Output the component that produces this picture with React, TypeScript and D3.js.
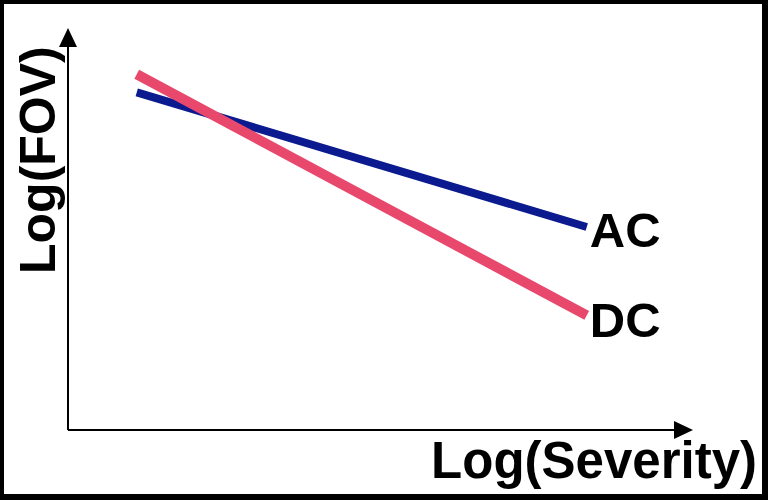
import React from "react";
import * as d3 from "d3";

const severity: number[] = [1.1, 8.3];
const acValues: number[] = [8.4, 5.05];
const dcValues: number[] = [8.85, 2.85];
const seriesNames: string[] = ["AC", "DC"];
const xLabel = "Log(Severity)";
const yLabel = "Log(FOV)";

const W = 768;
const H = 500;

export default function App() {
  const x = d3.scaleLinear().domain([0, 10]).range([68, 693]);
  const y = d3.scaleLinear().domain([0, 10]).range([430, 28]);
  const line = d3
    .line<[number, number]>()
    .x((d) => x(d[0]))
    .y((d) => y(d[1]));
  const acPts = severity.map((s, i) => [s, acValues[i]] as [number, number]);
  const dcPts = severity.map((s, i) => [s, dcValues[i]] as [number, number]);
  const font = "'Liberation Sans', Arial, sans-serif";
  const x0 = x(0);
  const y0 = y(0);
  const xEnd = x(10);
  const yEnd = y(10);
  return (
    <svg
      width={W}
      height={H}
      style={{ position: "fixed", left: 0, top: 0, display: "block" }}
    >
      <rect x={0} y={0} width={W} height={H} fill="#000" />
      <rect x={4} y={4} width={758} height={490} fill="#fff" />
      {/* axes */}
      <line x1={x0} y1={y0} x2={x0} y2={yEnd + 16} stroke="#000" strokeWidth={2} />
      <path d={`M${x0 - 9},${yEnd + 19} L${x0},${yEnd} L${x0 + 9},${yEnd + 19} Z`} fill="#000" />
      <line x1={x0} y1={y0} x2={xEnd - 16} y2={y0} stroke="#000" strokeWidth={2} />
      <path d={`M${xEnd - 19},${y0 - 9} L${xEnd},${y0} L${xEnd - 19},${y0 + 9} Z`} fill="#000" />
      {/* series */}
      <path d={line(acPts) || ""} stroke="#0b1a8e" strokeWidth={8} fill="none" />
      <path d={line(dcPts) || ""} stroke="#e8486c" strokeWidth={10} fill="none" />
      <text
        x={x(severity[1]) + 3}
        y={y(acValues[1]) + 20}
        fontFamily={font}
        fontWeight="bold"
        fontSize={49}
        fill="#000"
      >
        {seriesNames[0]}
      </text>
      <text
        x={x(severity[1]) + 3}
        y={y(dcValues[1]) + 22}
        fontFamily={font}
        fontWeight="bold"
        fontSize={49}
        fill="#000"
      >
        {seriesNames[1]}
      </text>
      <text
        x={757}
        y={478}
        textAnchor="end"
        fontFamily={font}
        fontWeight="bold"
        fontSize={51}
        fill="#000"
      >
        {xLabel}
      </text>
      <text
        transform="translate(55,274) rotate(-90)"
        fontFamily={font}
        fontWeight="bold"
        fontSize={50}
        fill="#000"
      >
        {yLabel}
      </text>
    </svg>
  );
}
